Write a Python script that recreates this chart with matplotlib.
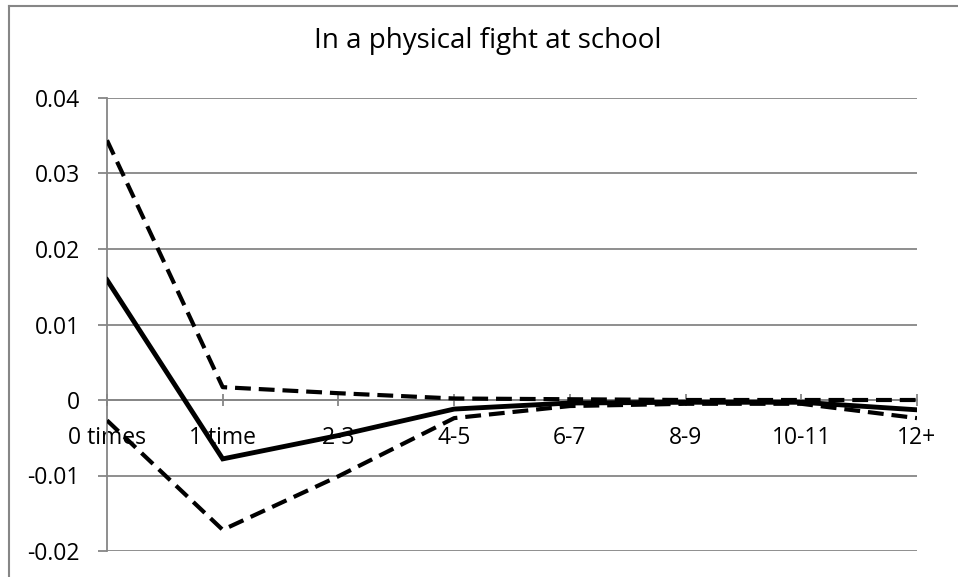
import matplotlib
matplotlib.use("Agg")
import matplotlib.pyplot as plt
from matplotlib.lines import Line2D

# ---------------------------------------------------------------------------
# Data
# ---------------------------------------------------------------------------
categories = ["0 times", "1 time", "2-3", "4-5", "6-7", "8-9", "10-11", "12+"]
estimate = [0.0159, -0.0078, -0.0047, -0.0012, -0.0004, -0.0003, -0.0003, -0.0013]
upper_ci = [0.0344, 0.0017, 0.0009, 0.0002, 0.0001, 0.0000, 0.0000, 0.0000]
lower_ci = [-0.0027, -0.0172, -0.0101, -0.0024, -0.0008, -0.0005, -0.0005, -0.0024]
y_ticks = [-0.02, -0.01, 0, 0.01, 0.02, 0.03, 0.04]
y_tick_labels = ["-0.02", "-0.01", "0", "0.01", "0.02", "0.03", "0.04"]
title = "In a physical fight at school"

GRID = "#868686"
FONT = ["Open Sans", "DejaVu Sans"]
plt.rcParams["font.family"] = FONT

fig = plt.figure(figsize=(9.58, 5.77), dpi=100)
ax = fig.add_axes([107 / 958, 1 - 551 / 577, (917 - 107) / 958, (551 - 98) / 577])

x = list(range(len(categories)))
ax.plot(x, estimate, color="black", lw=3.5, solid_joinstyle="miter", zorder=4)
for series in (upper_ci, lower_ci):
    ax.plot(x, series, color="black", lw=3.0, dashes=(3.8, 1.9),
            dash_joinstyle="round", zorder=3)

ax.set_xlim(0, len(categories) - 1)
ax.set_ylim(-0.02, 0.04)
ax.set_yticks(y_ticks)
ax.set_yticklabels(y_tick_labels)
ax.set_xticks(x)
ax.set_xticklabels(categories)

for side in ("top", "right"):
    ax.spines[side].set_visible(False)
ax.spines["bottom"].set_position(("data", 0))
for side in ("left", "bottom"):
    ax.spines[side].set_color(GRID)
    ax.spines[side].set_linewidth(1.3)

ax.yaxis.grid(True, color=GRID, lw=1.3)
ax.set_axisbelow(True)
ax.tick_params(axis="y", direction="out", length=6.5, width=1.3,
               color=GRID, pad=13, labelsize=16.5)
ax.tick_params(axis="x", direction="inout", length=9, width=1.3,
               color=GRID, pad=14, labelsize=16.5)

fig.text(488 / 958, 1 - 48 / 577, title, ha="center", va="baseline",
         fontsize=20)

# outer chart frame (left and top edges visible in the reference)
fig.add_artist(Line2D([8.5 / 958, 8.5 / 958], [0, 1 - 6 / 577],
                      transform=fig.transFigure, color=GRID, lw=1.5))
fig.add_artist(Line2D([8.5 / 958, 1], [1 - 6 / 577, 1 - 6 / 577],
                      transform=fig.transFigure, color=GRID, lw=1.5))

fig.savefig("out.png", dpi=100)
